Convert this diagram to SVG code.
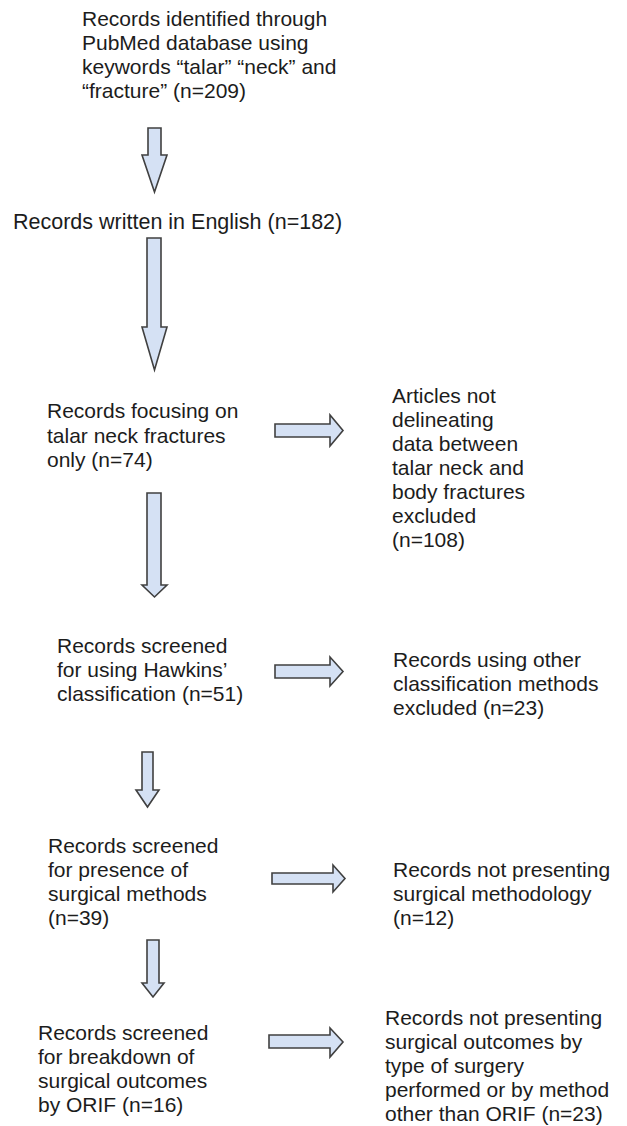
<svg xmlns="http://www.w3.org/2000/svg" width="627" height="1126" viewBox="0 0 627 1126">
<style>
text{font-family:"Liberation Sans",Arial,sans-serif;font-size:21px;fill:#1c1c1c}
.arr{fill:#d5e1f4;stroke:#404040;stroke-width:1.6;stroke-linejoin:miter}
</style>
<rect width="627" height="1126" fill="#fff"/>
<g id="n1"><text x="82" y="26">Records identified through</text><text x="82" y="50">PubMed database using</text><text x="82" y="74">keywords “talar” “neck” and</text><text x="82" y="98">“fracture” (n=209)</text></g>
<g id="n2"><text x="13" y="229" style="font-size:21.5px">Records written in English (n=182)</text></g>
<g id="n3"><text x="47" y="418">Records focusing on</text><text x="47" y="443">talar neck fractures</text><text x="47" y="467">only (n=74)</text></g>
<g id="x1"><text x="392" y="403">Articles not</text><text x="392" y="427">delineating</text><text x="392" y="451">data between</text><text x="392" y="475">talar neck and</text><text x="392" y="499">body fractures</text><text x="392" y="523">excluded</text><text x="392" y="547">(n=108)</text></g>
<g id="n4"><text x="57" y="653">Records screened</text><text x="57" y="677">for using Hawkins’</text><text x="57" y="701">classification (n=51)</text></g>
<g id="x2"><text x="393" y="667">Records using other</text><text x="393" y="691">classification methods</text><text x="393" y="715">excluded (n=23)</text></g>
<g id="n5"><text x="48" y="853">Records screened</text><text x="48" y="877">for presence of</text><text x="48" y="901">surgical methods</text><text x="48" y="925">(n=39)</text></g>
<g id="x3"><text x="393" y="877">Records not presenting</text><text x="393" y="901">surgical methodology</text><text x="393" y="925">(n=12)</text></g>
<g id="n6"><text x="38" y="1040">Records screened</text><text x="38" y="1064">for breakdown of</text><text x="38" y="1088">surgical outcomes</text><text x="38" y="1112">by ORIF (n=16)</text></g>
<g id="x4"><text x="385" y="1025">Records not presenting</text><text x="385" y="1049">surgical outcomes by</text><text x="385" y="1073">type of surgery</text><text x="385" y="1097">performed or by method</text><text x="385" y="1121">other than ORIF (n=23)</text></g>
<g id="connectors">
<polygon class="arr" points="148,128 161,128 161,155 167,155 154.5,192 142,155 148,155"/>
<polygon class="arr" points="147,238 161,238 161,327 167,327 154.5,370 142,327 147,327"/>
<polygon class="arr" points="147,493 161,493 161,585 167,585 154.5,597 142,585 147,585"/>
<polygon class="arr" points="142,752 153,752 153,790 159,790 147.5,807 136,790 142,790"/>
<polygon class="arr" points="147,940 159,940 159,983 164,983 153,997 142,983 147,983"/>
<polygon class="arr" points="275,424 330,424 330,415 343,430.5 330,446 330,437 275,437"/>
<polygon class="arr" points="275,665 330,665 330,657 343,671.5 330,686 330,678 275,678"/>
<polygon class="arr" points="272,873 333,873 333,865 345,878.5 333,892 333,884 272,884"/>
<polygon class="arr" points="269,1035 330,1035 330,1028 343,1042 330,1057 330,1048 269,1048"/>
</g>
</svg>
